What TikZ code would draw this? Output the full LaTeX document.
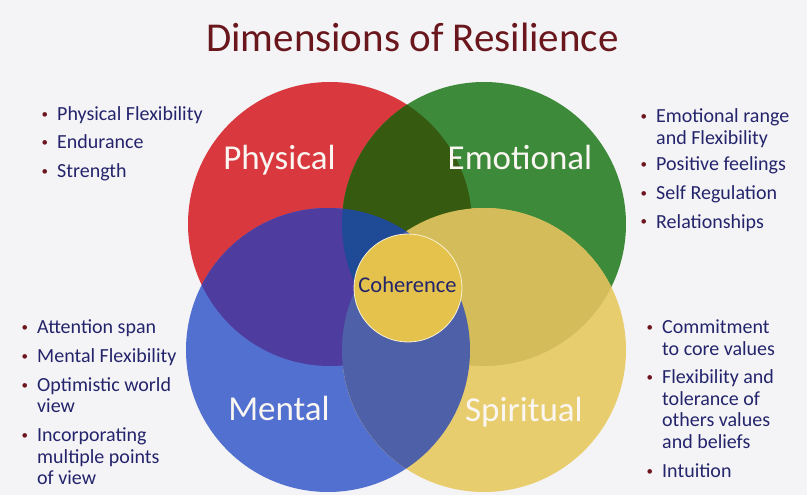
\documentclass[tikz,border=0pt]{standalone}
\usepackage{fontspec}
\setmainfont{Carlito}
\usepackage{xcolor}
\usepackage{tikz}

\definecolor{bg}{RGB}{244,244,246}
\definecolor{titlered}{RGB}{105,22,28}
\definecolor{navy}{RGB}{36,36,108}
\definecolor{bulred}{RGB}{110,22,32}
\definecolor{labelwhite}{RGB}{250,246,242}
\definecolor{physred}{RGB}{216,56,62}
\definecolor{emogreen}{RGB}{61,139,58}
\definecolor{mentblue}{RGB}{82,112,208}
\definecolor{spiryellow}{RGB}{232,205,110}
\definecolor{pe}{RGB}{53,90,16}
\definecolor{pm}{RGB}{78,60,158}
\definecolor{es}{RGB}{212,188,90}
\definecolor{ms}{RGB}{78,96,168}
\definecolor{pem}{RGB}{30,74,150}
\definecolor{coh}{RGB}{228,194,76}

\tikzset{
  bigname/.style={text=labelwhite, font=\fontsize{35}{38}\selectfont, anchor=base, inner sep=0pt},
  item/.style={text=navy, font=\fontsize{20}{22}\selectfont, anchor=base west, inner sep=0pt},
}
\newcommand{\bul}{\llap{\textcolor{bulred}{\raisebox{2pt}{\fontsize{13}{13}\selectfont •}}\hspace{9pt}}}

\begin{document}
\begin{tikzpicture}[x=1pt, y=-1pt]
        \fill[bg] (0, 0) rectangle (807, 495);
        \useasboundingbox (0, 0) rectangle (807, 495);

        \node[text=titlered, font=\fontsize{41}{44}\selectfont, anchor=base, inner sep=0pt] (title) at (412.5, 52) {Dimensions of Resilience};

        % circle centres
        \coordinate (P) at (330, 224);
        \coordinate (E) at (484, 224);
        \coordinate (M) at (328, 350);
        \coordinate (S) at (484, 350);
        \def\rad{142pt}

        \fill[physred] (P) circle (\rad);
        \fill[emogreen] (E) circle (\rad);
        \fill[mentblue] (M) circle (\rad);
        \fill[spiryellow] (S) circle (\rad);

        % overlaps
        \begin{scope}
            \clip (P) circle (\rad);
            \fill[pe] (E) circle (\rad);
            \fill[pm] (M) circle (\rad);
        \end{scope}
        \begin{scope}
            \clip (E) circle (\rad);
            \fill[es] (S) circle (\rad);
        \end{scope}
        \begin{scope}
            \clip (P) circle (\rad);
            \clip (E) circle (\rad);
            \fill[pem] (M) circle (\rad);
        \end{scope}
        \begin{scope}
            \clip (M) circle (\rad);
            \fill[ms] (S) circle (\rad);
        \end{scope}

        \filldraw[fill=coh, draw=white!75!coh, line width=0.8pt] (408, 288) circle (54pt);
        \node[text=navy, font=\fontsize{22.5}{24}\selectfont, anchor=base, inner sep=0pt] (coherence) at (407.5, 292) {Coherence};

        \node[bigname] (physical) at (279.5, 169) {Physical};
        \node[bigname] (emotional) at (520, 169) {Emotional};
        \node[bigname] (mental) at (279, 420) {Mental};
        \node[bigname] (spiritual) at (524, 421) {Spiritual};

        \foreach \t/\y [count=\i] in {{\bul Physical Flexibility}/120.5, {\bul Endurance}/149, {\bul Strength}/177.5}
            \node[item] (phys\i) at (57, \y) {\t};

        \foreach \t/\y [count=\i] in {{\bul Emotional range}/123, {and Flexibility}/144.5, {\bul Positive feelings}/171, {\bul Self Regulation}/199.5, {\bul Relationships}/228}
            \node[item] (emo\i) at (656, \y) {\t};

        \foreach \t/\y [count=\i] in {{\bul Attention span}/333, {\bul Mental Flexibility}/362, {\bul Optimistic world}/391, {view}/412.5, {\bul Incorporating}/441.5, {multiple points}/463, {of view}/484.5}
            \node[item] (ment\i) at (37, \y) {\t};

        \foreach \t/\y [count=\i] in {{\bul Commitment}/333, {to core values}/355, {\bul Flexibility and}/383.5, {tolerance of}/405, {others values}/426.5, {and beliefs}/448, {\bul Intuition}/477}
            \node[item] (spir\i) at (662, \y) {\t};

    \end{tikzpicture}
\end{document}
